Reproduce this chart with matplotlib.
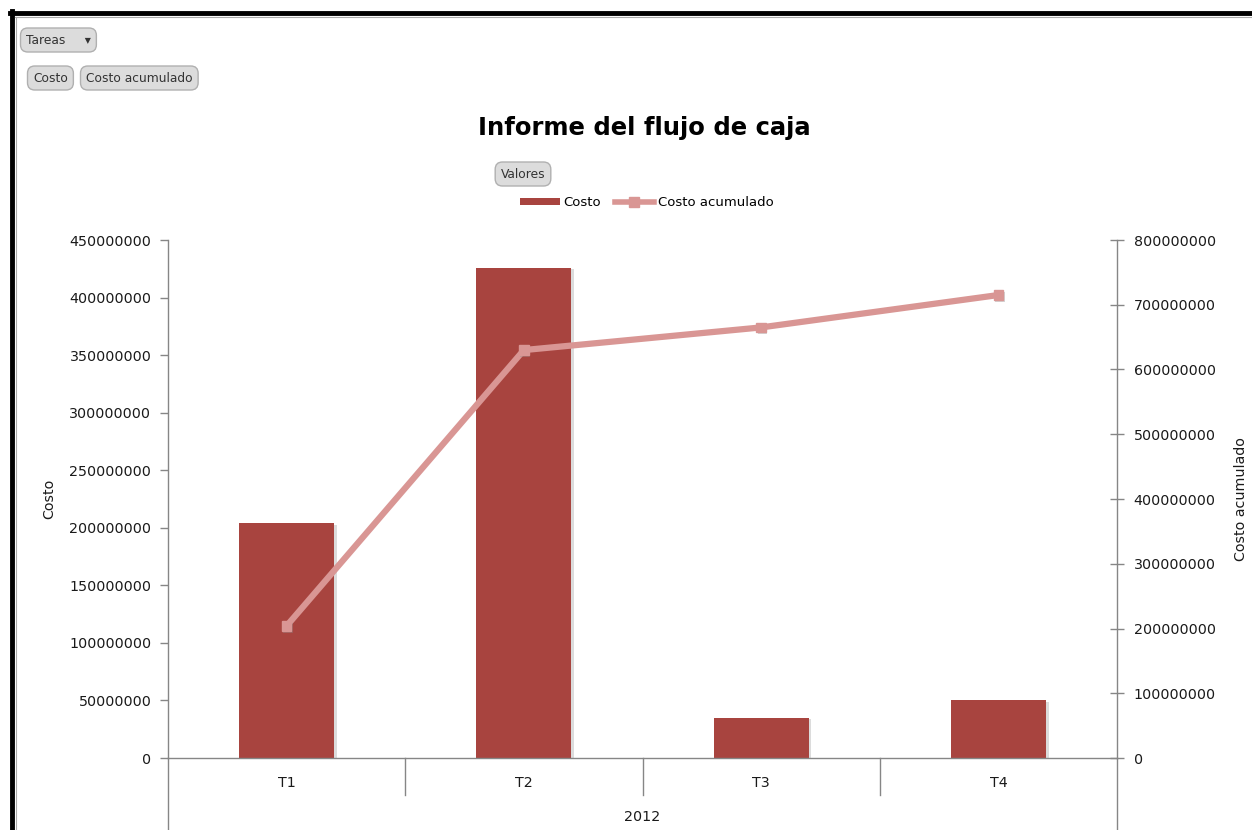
import matplotlib
matplotlib.use("Agg")
import matplotlib.pyplot as plt
from matplotlib.lines import Line2D
from matplotlib.patches import Patch
import matplotlib.transforms as mtrans
import matplotlib.patheffects as pe

categories = ["T1", "T2", "T3", "T4"]
group_label = "2012"
costo = [204e6, 426e6, 35e6, 50e6]
costo_acum = [204e6, 630e6, 665e6, 715e6]
left_ticks = [0, 50e6, 100e6, 150e6, 200e6, 250e6, 300e6, 350e6, 400e6, 450e6]
right_ticks = [0, 100e6, 200e6, 300e6, 400e6, 500e6, 600e6, 700e6, 800e6]

W, H = 1252, 830
fig = plt.figure(figsize=(W / 100, H / 100), dpi=100)
plt.rcParams['font.family'] = ['DejaVu Sans']

bar_color = '#a8443f'
line_color = '#d99694'
axis_color = '#868686'
text_color = '#1a1a1a'

def fx(px):
    return px / W

def fy(py):
    return 1 - py / H

ax = fig.add_axes([fx(168), fy(758), fx(1117) - fx(168), fy(240) - fy(758)])
ax2 = ax.twinx()

x = list(range(len(categories)))
ax.bar(x, costo, width=0.4, color=bar_color, zorder=2,
       path_effects=[pe.SimplePatchShadow(offset=(2, -1), shadow_rgbFace='#bbbbbb', alpha=0.5), pe.Normal()])
ax.set_xlim(-0.5, 3.5)
ax.set_ylim(0, 450e6)
ax.set_yticks(left_ticks)
ax.set_yticklabels([f"{int(v)}" for v in left_ticks], fontsize=10.3)
ax.set_xticks([])

ax2.plot(x, costo_acum, color=line_color, lw=4.5, zorder=3, solid_capstyle='butt')
ax2.plot(x, costo_acum, linestyle='none', marker='s', markersize=7,
         markerfacecolor=line_color, markeredgecolor=line_color, zorder=4,
         path_effects=[pe.SimplePatchShadow(offset=(1, -1.5), shadow_rgbFace='#888888', alpha=0.35), pe.Normal()])
ax2.set_ylim(0, 800e6)
ax2.set_yticks(right_ticks)
ax2.set_yticklabels([f"{int(v)}" for v in right_ticks], fontsize=10.3)

for a in (ax, ax2):
    a.spines['top'].set_visible(False)
    for s in ('left', 'right', 'bottom'):
        a.spines[s].set_color(axis_color)
        a.spines[s].set_linewidth(1.0)
    a.set_facecolor('none')
ax.tick_params(axis='y', direction='out', length=6, width=1, color=axis_color, pad=6,
               labelcolor=text_color)
ax2.tick_params(axis='y', direction='inout', length=10, width=1, color=axis_color, pad=7,
                labelcolor=text_color)
ax.spines['right'].set_visible(False)
ax2.spines['left'].set_visible(False)
ax2.spines['bottom'].set_visible(False)

ax.set_ylabel("Costo", fontsize=10.3, labelpad=9, color=text_color)
ax2.set_ylabel("Costo acumulado", fontsize=10.3, labelpad=13, color=text_color)

# category axis
bt = mtrans.blended_transform_factory(ax.transData, fig.transFigure)
for i, c in enumerate(categories):
    ax.text(i, fy(783), c, transform=bt, ha='center', va='center', fontsize=10.3,
            color=text_color, clip_on=False)
for xs in [0.5, 1.5, 2.5]:
    ax.add_line(Line2D([xs, xs], [fy(758), fy(795)], transform=bt, color=axis_color, lw=1, clip_on=False))
for xs in [-0.5, 3.5]:
    ax.add_line(Line2D([xs, xs], [fy(758), fy(835)], transform=bt, color=axis_color, lw=1, clip_on=False))
ax.text(1.5, fy(817), group_label, transform=bt, ha='center', va='center', fontsize=10.3,
        color=text_color, clip_on=False)

# title
fig.text(fx(644), fy(128), "Informe del flujo de caja", ha='center', va='center',
         fontsize=17.5, fontweight='bold')

# pivot buttons
btn = dict(boxstyle='round,pad=0.45,rounding_size=0.6', facecolor='#dcdcdc', edgecolor='#b0b0b0', lw=1)
fig.text(fx(26), fy(40), "Tareas     \u25be", ha='left', va='center', fontsize=8.8, bbox=btn, color='#333333')
fig.text(fx(33), fy(78), "Costo", ha='left', va='center', fontsize=8.8, bbox=btn, color='#333333')
fig.text(fx(86), fy(78), "Costo acumulado", ha='left', va='center', fontsize=8.8, bbox=btn, color='#333333')
fig.text(fx(523), fy(174), "Valores", ha='center', va='center', fontsize=8.8, bbox=btn, color='#333333')

# legend
handles = [Patch(facecolor=bar_color, edgecolor='none'),
           Line2D([0], [0], color=line_color, lw=4, marker='s', markersize=7)]
fig.legend(handles, ["Costo", "Costo acumulado"], loc='center', bbox_to_anchor=(fx(647), fy(203)),
           ncol=2, frameon=False, fontsize=9.5, handlelength=3.0, handleheight=0.4,
           columnspacing=1.0, handletextpad=0.3)

# screenshot border
fig.add_artist(Line2D([fx(10), fx(1252)], [fy(13), fy(13)], transform=fig.transFigure, color='black', lw=3.5))
fig.add_artist(Line2D([fx(12), fx(12)], [fy(11), fy(830)], transform=fig.transFigure, color='black', lw=3.5))
fig.add_artist(Line2D([fx(15), fx(1252)], [fy(17), fy(17)], transform=fig.transFigure, color='#aaaaaa', lw=0.8))
fig.add_artist(Line2D([fx(16), fx(16)], [fy(17), fy(830)], transform=fig.transFigure, color='#aaaaaa', lw=0.8))

fig.savefig("out.png", dpi=100)
